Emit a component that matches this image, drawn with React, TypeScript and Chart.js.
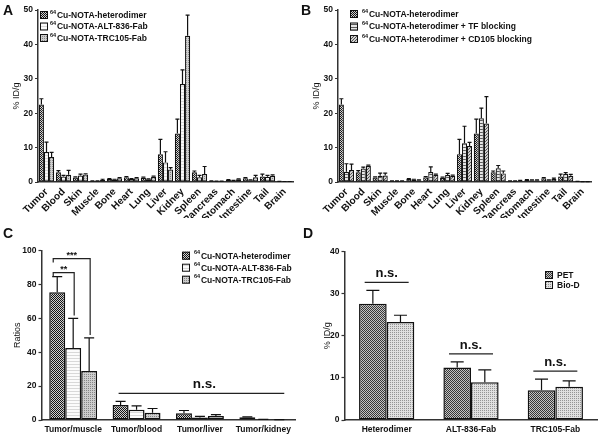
import React, { useEffect, useRef } from "react";
import { Chart, registerables } from "chart.js";
Chart.register(...registerables);

const FAM = "'Liberation Sans', Arial, Helvetica, sans-serif";

// ---------- Panel A / B data (% ID/g) ----------
const ORGANS = ["Tumor", "Blood", "Skin", "Muscle", "Bone", "Heart", "Lung", "Liver", "Kidney", "Spleen", "Pancreas", "Stomach", "Intestine", "Tail", "Brain"];
const HET = [22.5, 2.8, 1.3, 0.3, 0.9, 1.4, 1.2, 8.1, 14.1, 2.8, 0.3, 0.6, 1.1, 1.6, 0.15];
const HET_ERR = [1.7, 0.5, 0.2, 0.05, 0.1, 0.2, 0.2, 4.3, 4.2, 0.4, 0.05, 0.1, 0.2, 0.7, 0.03];
const ALT = [8.7, 1.6, 1.9, 0.3, 0.7, 0.9, 0.8, 5.7, 28.5, 1.4, 0.2, 0.4, 0.5, 1.5, 0.12];
const ALT_ERR = [2.9, 0.3, 0.4, 0.05, 0.1, 0.1, 0.1, 3.1, 4.1, 0.5, 0.05, 0.1, 0.1, 0.4, 0.03];
const TRC = [7.3, 2.1, 2.2, 0.6, 1.1, 1.1, 1.5, 3.6, 42.5, 2.3, 0.2, 0.8, 1.4, 1.8, 0.12];
const TRC_ERR = [1.3, 1.3, 0.2, 0.2, 0.2, 0.2, 0.2, 0.6, 6.0, 2.2, 0.05, 0.1, 0.5, 0.3, 0.03];
const TF = [3.0, 3.9, 1.8, 0.3, 0.7, 2.9, 2.0, 11.3, 18.5, 4.0, 0.3, 0.5, 0.5, 2.3, 0.1];
const TF_ERR = [2.3, 0.4, 0.8, 0.05, 0.1, 1.5, 0.5, 4.9, 3.0, 0.8, 0.05, 0.1, 0.1, 0.4, 0.02];
const CD = [3.5, 4.7, 1.9, 0.3, 0.5, 2.1, 1.8, 10.5, 17.0, 2.5, 0.4, 0.5, 0.9, 1.8, 0.1];
const CD_ERR = [1.7, 0.2, 0.7, 0.05, 0.1, 0.2, 0.2, 1.0, 7.8, 0.7, 0.05, 0.1, 0.2, 0.4, 0.02];

const LBL_HET = "⁶⁴Cu-NOTA-heterodimer";
const LBL_ALT = "⁶⁴Cu-NOTA-ALT-836-Fab";
const LBL_TRC = "⁶⁴Cu-NOTA-TRC105-Fab";
const LBL_TF = "⁶⁴Cu-NOTA-heterodimer + TF blocking";
const LBL_CD = "⁶⁴Cu-NOTA-heterodimer + CD105 blocking";

// ---------- Panel C data (ratios) ----------
const RATIO_CATS = ["Tumor/muscle", "Tumor/blood", "Tumor/liver", "Tumor/kidney"];
const R_HET = [75.5, 8.8, 4.0, 1.6];
const R_HET_ERR = [9.2, 2.2, 1.6, 0.3];
const R_ALT = [42.5, 6.0, 1.5, 0.3];
const R_ALT_ERR = [17.5, 2.3, 0.6, 0.1];
const R_TRC = [29.0, 4.3, 2.4, 0.2];
const R_TRC_ERR = [19.5, 2.5, 0.8, 0.05];
const SIG_C = [
  { a: 0, b: 1, text: "**" },
  { a: 0, b: 2, text: "***" },
];
const NS_C = { from: 1, to: 3, text: "n.s." };

// ---------- Panel D data (% ID/g) ----------
const D_CATS = ["Heterodimer", "ALT-836-Fab", "TRC105-Fab"];
const PET = [27.6, 12.5, 7.1];
const PET_ERR = [3.2, 1.3, 2.6];
const BIOD = [23.3, 9.0, 7.9];
const BIOD_ERR = [1.6, 2.9, 1.4];
const D_SERIES = ["PET", "Bio-D"];
const NS_D = "n.s.";

// ---------- patterns ----------
function pattern(kind: string): any {
  const c = document.createElement("canvas");
  const x = c.getContext("2d")!;
  const px = (col: string, i: number, j: number) => { x.fillStyle = col; x.fillRect(i, j, 1, 1); };
  if (kind === "checker") {
    c.width = 2; c.height = 2;
    x.fillStyle = "#d0d0d0"; x.fillRect(0, 0, 2, 2);
    px("#141414", 0, 0); px("#141414", 1, 1);
  } else if (kind === "white") {
    c.width = 1; c.height = 3;
    x.fillStyle = "#fbfbfb"; x.fillRect(0, 0, 1, 3);
    px("#d8d8d8", 0, 2);
  } else if (kind === "dots") {
    c.width = 2; c.height = 2;
    x.fillStyle = "#cdcdcd"; x.fillRect(0, 0, 2, 2);
    px("#858585", 0, 0);
  } else if (kind === "hstripe") {
    c.width = 1; c.height = 3;
    x.fillStyle = "#e6e6e6"; x.fillRect(0, 0, 1, 3);
    px("#5a5a5a", 0, 0);
  } else if (kind === "diag") {
    c.width = 3; c.height = 3;
    x.fillStyle = "#d0d0d0"; x.fillRect(0, 0, 3, 3);
    px("#505050", 0, 2); px("#505050", 1, 1); px("#505050", 2, 0);
  } else if (kind === "pet") {
    c.width = 2; c.height = 2;
    x.fillStyle = "#c4c4c4"; x.fillRect(0, 0, 2, 2);
    px("#383838", 0, 0); px("#383838", 1, 1);
  } else if (kind === "biod") {
    c.width = 2; c.height = 2;
    x.fillStyle = "#e0e0e0"; x.fillRect(0, 0, 2, 2);
    px("#959595", 0, 0);
  }
  return x.createPattern(c, "repeat");
}

type Series = { label: string; data: number[]; err: number[]; fill: string };
type Spec = {
  labels: string[];
  series: Series[];
  yMax: number; yStep: number; yTitle: string;
  pad: { left: number; right: number; top: number; bottom: number };
  yWidth: number; xHeight: number;
  catPct: number; rot: number; xFont: number; xPad: number;
  cap: number; bw: number;
  legend: { x: number; tx: number; y: number; gap: number; box: number };
  extra?: (chart: any) => void;
};

function drawLegend(ctx: CanvasRenderingContext2D, chart: any, L: Spec["legend"]) {
  chart.data.datasets.forEach((ds: any, i: number) => {
    const cy = L.y + i * L.gap;
    ctx.save();
    ctx.fillStyle = ds.backgroundColor;
    ctx.fillRect(L.x, cy - L.box / 2, L.box, L.box);
    ctx.strokeStyle = "#111"; ctx.lineWidth = 1;
    ctx.strokeRect(L.x + 0.5, cy - L.box / 2 + 0.5, L.box - 1, L.box - 1);
    ctx.fillStyle = "#111"; ctx.textAlign = "left"; ctx.textBaseline = "middle";
    let tx = L.tx; let text: string = ds.label;
    if (text.startsWith("⁶⁴")) {
      ctx.font = `bold 5.5px ${FAM}`;
      ctx.fillText("64", tx, cy - 3);
      tx += ctx.measureText("64").width + 0.8;
      text = text.slice(2);
    }
    ctx.font = `bold 8.5px ${FAM}`;
    ctx.fillText(text, tx, cy + 0.5);
    ctx.restore();
  });
}

function buildConfig(S: Spec): any {
  const plugin = {
    id: "extras",
    afterDatasetsDraw(chart: any) {
      const ctx = chart.ctx; const y = chart.scales.y;
      ctx.save();
      ctx.strokeStyle = "#111"; ctx.lineWidth = 1.2;
      chart.data.datasets.forEach((ds: any, i: number) => {
        const meta = chart.getDatasetMeta(i);
        meta.data.forEach((el: any, j: number) => {
          const top = y.getPixelForValue(ds.data[j] + ds.errors[j]);
          ctx.beginPath();
          ctx.moveTo(el.x, el.y); ctx.lineTo(el.x, top);
          ctx.moveTo(el.x - S.cap / 2, top); ctx.lineTo(el.x + S.cap / 2, top);
          ctx.stroke();
        });
      });
      ctx.restore();
    },
    afterDraw(chart: any) {
      drawLegend(chart.ctx, chart, S.legend);
      if (S.extra) S.extra(chart);
    },
  };
  return {
    type: "bar",
    data: {
      labels: S.labels,
      datasets: S.series.map((s) => ({
        label: s.label, data: s.data, errors: s.err,
        backgroundColor: pattern(s.fill), borderColor: "#111", borderWidth: S.bw, borderSkipped: false,
        categoryPercentage: S.catPct, barPercentage: 1,
      })),
    },
    options: {
      responsive: false, animation: false, maintainAspectRatio: false,
      layout: { padding: S.pad },
      plugins: { legend: { display: false }, tooltip: { enabled: false } },
      scales: {
        x: {
          ticks: { color: "#111", font: { size: S.xFont, weight: "bold", family: FAM }, minRotation: S.rot, maxRotation: S.rot, autoSkip: false, padding: S.xPad },
          grid: { display: false, drawTicks: false },
          border: { display: true, color: "#333", width: 1.5 },
          afterFit: (s: any) => { s.height = S.xHeight; },
        },
        y: {
          min: 0, max: S.yMax,
          ticks: { stepSize: S.yStep, color: "#111", font: { size: 8.5, weight: "bold", family: FAM }, padding: 2 },
          grid: { display: true, drawOnChartArea: false, drawTicks: true, tickLength: 3, tickColor: "#333", tickWidth: 1.2 },
          border: { display: true, color: "#333", width: 1.5 },
          title: { display: true, text: S.yTitle, color: "#111", font: { size: 9, family: FAM }, padding: 0 },
          afterFit: (s: any) => { s.width = S.yWidth; },
        },
      },
    },
    plugins: [plugin],
  };
}

// annotation helpers
function sigBrackets(chart: any) {
  const ctx = chart.ctx; const y = chart.scales.y;
  const topOf = (d: number, j: number) => y.getPixelForValue(chart.data.datasets[d].data[j] + chart.data.datasets[d].errors[j]);
  const xOf = (d: number, j: number) => chart.getDatasetMeta(d).data[j].x;
  ctx.save();
  ctx.strokeStyle = "#222"; ctx.lineWidth = 1.2; ctx.fillStyle = "#111";
  ctx.font = `bold 9px ${FAM}`; ctx.textAlign = "center"; ctx.textBaseline = "alphabetic";
  SIG_C.forEach((s, k) => {
    const base = Math.min(topOf(s.a, 0), topOf(s.b, 0));
    const yy = base - 4 - k * 14;
    const x1 = xOf(s.a, 0) - 4; const x2 = xOf(s.b, 0) + 1;
    ctx.beginPath();
    ctx.moveTo(x1, yy + 4); ctx.lineTo(x1, yy); ctx.lineTo(x2, yy); ctx.lineTo(x2, topOf(s.b, 0) - 3);
    ctx.stroke();
    ctx.fillText(s.text, (x1 + x2) / 2, yy - 1);
  });
  let minTop = Infinity;
  chart.data.datasets.forEach((ds: any, d: number) => {
    for (let j = NS_C.from; j <= NS_C.to; j++) minTop = Math.min(minTop, topOf(d, j));
  });
  const ly = minTop - 8;
  const metaFirst = chart.getDatasetMeta(0).data[NS_C.from];
  const metaLast = chart.getDatasetMeta(chart.data.datasets.length - 1).data[NS_C.to];
  const lx1 = metaFirst.x - metaFirst.width / 2 + 6;
  const lx2 = metaLast.x + metaLast.width / 2 - 3;
  ctx.beginPath(); ctx.moveTo(lx1, ly); ctx.lineTo(lx2, ly); ctx.stroke();
  ctx.font = `bold 13.5px ${FAM}`;
  ctx.fillText(NS_C.text, (lx1 + lx2) / 2 + 3, ly - 5);
  ctx.restore();
}

function nsGroups(chart: any) {
  const ctx = chart.ctx; const y = chart.scales.y;
  ctx.save();
  ctx.strokeStyle = "#222"; ctx.lineWidth = 1.2; ctx.fillStyle = "#111";
  ctx.font = `bold 13px ${FAM}`; ctx.textAlign = "center"; ctx.textBaseline = "alphabetic";
  chart.data.labels.forEach((_: string, j: number) => {
    let minTop = Infinity;
    chart.data.datasets.forEach((ds: any) => { minTop = Math.min(minTop, y.getPixelForValue(ds.data[j] + ds.errors[j])); });
    const ly = minTop - 8;
    const cx = chart.scales.x.getPixelForValue(j);
    ctx.beginPath(); ctx.moveTo(cx - 22, ly); ctx.lineTo(cx + 22, ly); ctx.stroke();
    ctx.fillText(NS_D, cx, ly - 5);
  });
  ctx.restore();
}

const SPEC_A: Spec = {
  labels: ORGANS,
  series: [
    { label: LBL_HET, data: HET, err: HET_ERR, fill: "checker" },
    { label: LBL_ALT, data: ALT, err: ALT_ERR, fill: "white" },
    { label: LBL_TRC, data: TRC, err: TRC_ERR, fill: "dots" },
  ],
  yMax: 50, yStep: 10, yTitle: "% ID/g",
  pad: { left: 11.6, right: 7, top: 10, bottom: 0 },
  yWidth: 26.4, xHeight: 36, catPct: 0.9, rot: 45, xFont: 10, xPad: 4,
  cap: 4, bw: 1.2,
  legend: { x: 40, tx: 50, y: 15, gap: 11.5, box: 8 },
};

const SPEC_B: Spec = {
  labels: ORGANS,
  series: [
    { label: LBL_HET, data: HET, err: HET_ERR, fill: "checker" },
    { label: LBL_TF, data: TF, err: TF_ERR, fill: "hstripe" },
    { label: LBL_CD, data: CD, err: CD_ERR, fill: "diag" },
  ],
  yMax: 50, yStep: 10, yTitle: "% ID/g",
  pad: { left: 11.6, right: 9, top: 10, bottom: 0 },
  yWidth: 26.4, xHeight: 36, catPct: 0.9, rot: 45, xFont: 10, xPad: 4,
  cap: 4, bw: 1.2,
  legend: { x: 50, tx: 62, y: 14, gap: 12.5, box: 8 },
};

const SPEC_C: Spec = {
  labels: RATIO_CATS,
  series: [
    { label: LBL_HET, data: R_HET, err: R_HET_ERR, fill: "checker" },
    { label: LBL_ALT, data: R_ALT, err: R_ALT_ERR, fill: "white" },
    { label: LBL_TRC, data: R_TRC, err: R_TRC_ERR, fill: "dots" },
  ],
  yMax: 100, yStep: 20, yTitle: "Ratios",
  pad: { left: 12.6, right: 5, top: 32.7, bottom: 0 },
  yWidth: 28.9, xHeight: 16, catPct: 0.756, rot: 0, xFont: 8.5, xPad: 5,
  cap: 10, bw: 1.5,
  legend: { x: 182, tx: 194, y: 37.7, gap: 12, box: 8 },
  extra: sigBrackets,
};

const SPEC_D: Spec = {
  labels: D_CATS,
  series: [
    { label: D_SERIES[0], data: PET, err: PET_ERR, fill: "pet" },
    { label: D_SERIES[1], data: BIOD, err: BIOD_ERR, fill: "biod" },
  ],
  yMax: 40, yStep: 10, yTitle: "% ID/g",
  pad: { left: 22.6, right: 2.5, top: 33.7, bottom: 0 },
  yWidth: 21.9, xHeight: 16, catPct: 0.655, rot: 0, xFont: 8.5, xPad: 5,
  cap: 13, bw: 1.5,
  legend: { x: 245, tx: 257, y: 57, gap: 10, box: 8 },
  extra: nsGroups,
};

function Panel({ spec, left, top }: { spec: Spec; left: number; top: number }) {
  const ref = useRef<HTMLCanvasElement>(null);
  useEffect(() => {
    const chart = new Chart(ref.current!, buildConfig(spec));
    return () => chart.destroy();
  }, [spec]);
  return (
    <canvas ref={ref} width={300} height={218}
      style={{ position: "absolute", left, top, width: 300, height: 218 }} />
  );
}

const letter = (t: string, left: number, top: number) => (
  <div style={{ position: "absolute", left, top, font: `bold 14px ${FAM}`, color: "#111", lineHeight: "14px" }}>{t}</div>
);

export default function App() {
  return (
    <div style={{ position: "fixed", left: 0, top: 0, width: 600, height: 436, background: "#fff", overflow: "hidden" }}>
      <Panel spec={SPEC_A} left={0} top={0} />
      <Panel spec={SPEC_B} left={300} top={0} />
      <Panel spec={SPEC_C} left={0} top={218} />
      <Panel spec={SPEC_D} left={300} top={218} />
      {letter("A", 3, 3)}
      {letter("B", 301, 3)}
      {letter("C", 3, 226)}
      {letter("D", 303, 226)}
    </div>
  );
}
